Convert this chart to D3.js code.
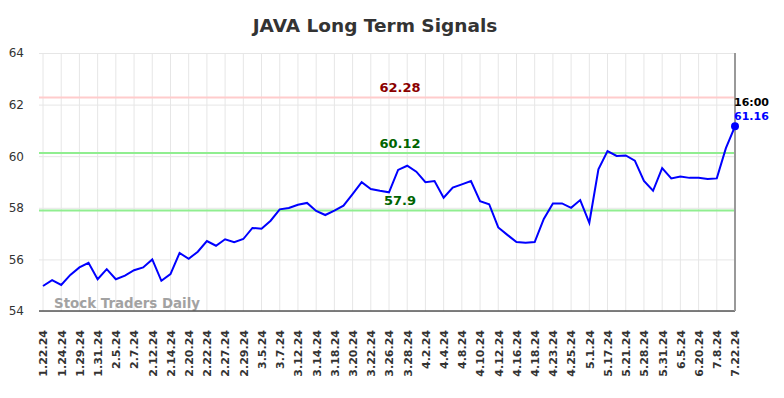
<!DOCTYPE html>
<html>
<head>
<meta charset="utf-8">
<script src="https://cdn.jsdelivr.net/npm/d3@7"></script>
<style>
  body { margin: 0; background: #fff; }
  svg { display: block; font-family: "DejaVu Sans", sans-serif; }
</style>
</head>
<body>
<div id="chart"></div>
<script>
// tick labels (one for every other point)
const dateLabels = ["1.22.24", "1.24.24", "1.29.24", "1.31.24", "2.5.24", "2.7.24", "2.12.24", "2.14.24",
    "2.20.24", "2.22.24", "2.27.24", "2.29.24", "3.5.24", "3.7.24", "3.12.24", "3.14.24", "3.18.24",
    "3.20.24", "3.22.24", "3.26.24", "3.28.24", "4.2.24", "4.4.24", "4.8.24", "4.10.24", "4.12.24",
    "4.16.24", "4.18.24", "4.23.24", "4.25.24", "5.1.24", "5.17.24", "5.21.24", "5.28.24", "5.31.24",
    "6.5.24", "6.20.24", "7.8.24", "7.22.24"];

// closing prices
const prices = [54.97, 55.20, 55.01, 55.40, 55.69, 55.87, 55.23, 55.62, 55.23, 55.37,
    55.58, 55.69, 56.00, 55.17, 55.43, 56.25, 56.02, 56.30, 56.71, 56.53,
    56.78, 56.67, 56.79, 57.22, 57.19, 57.50, 57.94, 57.99, 58.12, 58.19,
    57.88, 57.72, 57.89, 58.08, 58.53, 58.99, 58.73, 58.66, 58.60, 59.47,
    59.63, 59.40, 58.99, 59.04, 58.39, 58.78, 58.91, 59.04, 58.26, 58.14,
    57.24, 56.95, 56.67, 56.65, 56.67, 57.57, 58.17, 58.17, 58.00, 58.30,
    57.42, 59.49, 60.20, 60.01, 60.03, 59.83, 59.04, 58.66, 59.54, 59.14,
    59.21, 59.16, 59.16, 59.12, 59.14, 60.31, 61.16];

const yTicks = [54, 56, 58, 60, 62, 64];

// signal levels
const signalValues = [62.28, 60.12, 57.9];
const signalLabels = ["62.28", "60.12", "57.9"];
const signalLine = ["#ffcccc", "#90ee90", "#90ee90"];
const signalText = ["#8b0000", "#006400", "#006400"];

const width = 784;
const height = 398;
const margin = { top: 53, right: 49, bottom: 87, left: 43 };

const svg = d3.select("#chart")
    .append("svg")
    .attr("width", width)
    .attr("height", height);

const x = d3.scaleLinear()
    .domain([0, prices.length - 1])
    .range([margin.left, width - margin.right]);

const y = d3.scaleLinear()
    .domain([54, 64])
    .range([height - margin.bottom, margin.top]);

// title
svg.append("text")
    .attr("x", 375)
    .attr("y", 32)
    .attr("text-anchor", "middle")
    .attr("font-size", 18.5)
    .attr("font-weight", "bold")
    .attr("fill", "#333")
    .text("JAVA Long Term Signals");

// vertical grid, one per label
svg.append("g")
    .selectAll("line")
    .data(dateLabels)
    .enter()
    .append("line")
    .attr("x1", (d, i) => x(i * 2))
    .attr("x2", (d, i) => x(i * 2))
    .attr("y1", margin.top)
    .attr("y2", height - margin.bottom)
    .attr("stroke", "#e6e6e6")
    .attr("stroke-width", 1);

// horizontal grid + y labels
const yAxis = svg.append("g")
    .attr("transform", `translate(${margin.left}, 0)`)
    .call(d3.axisLeft(y)
        .tickValues(yTicks)
        .tickSize(-(width - margin.left - margin.right))
        .tickPadding(19)
        .tickFormat(d3.format("d")));
yAxis.select(".domain").remove();
yAxis.selectAll(".tick line")
    .attr("x1", -4)
    .attr("stroke", "#e6e6e6");
yAxis.selectAll(".tick text")
    .attr("font-size", 12)
    .attr("fill", "#333")
    .attr("font-family", "DejaVu Sans, sans-serif");

// signal lines
signalValues.forEach((v, i) => {
    svg.append("line")
        .attr("x1", margin.left - 4)
        .attr("x2", width - margin.right)
        .attr("y1", y(v))
        .attr("y2", y(v))
        .attr("stroke", signalLine[i])
        .attr("stroke-width", 2);
    svg.append("text")
        .attr("x", 400)
        .attr("y", y(v) - 5)
        .attr("text-anchor", "middle")
        .attr("font-size", 13)
        .attr("font-weight", "bold")
        .attr("fill", signalText[i])
        .text(signalLabels[i]);
});

// watermark
svg.append("text")
    .attr("x", 54)
    .attr("y", 308)
    .attr("font-size", 13.4)
    .attr("font-weight", "bold")
    .attr("fill", "#999")
    .attr("opacity", 0.9)
    .text("Stock Traders Daily");

// x axis labels
const xAxis = svg.append("g")
    .attr("transform", `translate(0, ${height - margin.bottom})`)
    .call(d3.axisBottom(x)
        .tickValues(d3.range(0, prices.length, 2))
        .tickSize(0)
        .tickFormat((d) => dateLabels[d / 2]));
xAxis.select(".domain")
    .attr("d", `M${margin.left - 4},0H${width - margin.right}`)
    .attr("stroke", "#555")
    .attr("stroke-width", 1.5);
xAxis.selectAll(".tick text")
    .attr("font-size", 11)
    .attr("font-weight", "bold")
    .attr("fill", "#333")
    .attr("font-family", "DejaVu Sans, sans-serif")
    .attr("text-anchor", "end")
    .attr("transform", "rotate(-90)")
    .attr("x", -19)
    .attr("y", 0)
    .attr("dy", "0.35em");

// right edge line
svg.append("line")
    .attr("x1", x(prices.length - 1))
    .attr("x2", x(prices.length - 1))
    .attr("y1", margin.top)
    .attr("y2", height - margin.bottom)
    .attr("stroke", "#999")
    .attr("stroke-width", 2);

// price line
const line = d3.line()
    .x((d, i) => x(i))
    .y(d => y(d));

svg.append("path")
    .datum(prices)
    .attr("fill", "none")
    .attr("stroke", "#0000ff")
    .attr("stroke-width", 2)
    .attr("d", line);

// last point
const last = prices.length - 1;
svg.append("circle")
    .attr("cx", x(last))
    .attr("cy", y(prices[last]))
    .attr("r", 4)
    .attr("fill", "#0000ff");

svg.append("text")
    .attr("x", x(last) - 1)
    .attr("y", y(prices[last]) - 20)
    .attr("font-size", 11)
    .attr("font-weight", "bold")
    .attr("fill", "#000")
    .text("16:00");

svg.append("text")
    .attr("x", x(last) - 1)
    .attr("y", y(prices[last]) - 6)
    .attr("font-size", 11)
    .attr("font-weight", "bold")
    .attr("fill", "#0000ff")
    .text(prices[last].toFixed(2));
</script>
</body>
</html>
